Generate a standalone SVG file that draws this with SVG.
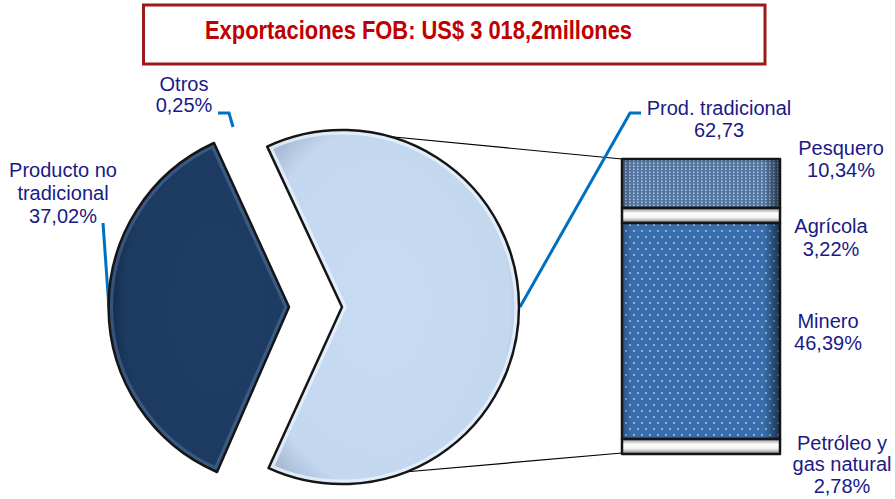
<svg xmlns="http://www.w3.org/2000/svg" width="895" height="499" viewBox="0 0 895 499">
<style>
.lbl{font-family:"Liberation Sans",Arial,sans-serif;font-size:20px;fill:#1a1a86;text-anchor:middle}
.lead{fill:none;stroke:#0070c0;stroke-width:3}
.proj{fill:none;stroke:#000;stroke-width:1.2}
.edge{stroke:#151515;stroke-width:2.5;stroke-linejoin:round}
</style>
<defs>
<radialGradient id="gLight" cx="0.45" cy="0.5" r="0.6">
<stop offset="0" stop-color="#c8dbf2"/><stop offset="0.85" stop-color="#c3d7ef"/><stop offset="1" stop-color="#a9bcd6"/>
</radialGradient>
<radialGradient id="gDark" cx="0.6" cy="0.5" r="0.6">
<stop offset="0" stop-color="#1f3e66"/><stop offset="0.85" stop-color="#1d3b61"/><stop offset="1" stop-color="#142b4a"/>
</radialGradient>
<pattern id="pPes" width="4" height="3" patternUnits="userSpaceOnUse">
<rect width="4" height="3" fill="#52739d"/><rect x="1" y="0.5" width="1.6" height="1.6" fill="#a9c5e8"/>
</pattern>
<pattern id="pMin" width="8" height="12" patternUnits="userSpaceOnUse">
<rect width="8" height="12" fill="#3a6dab"/><circle cx="2" cy="3" r="0.9" fill="#b8d2f2"/><circle cx="6" cy="9" r="0.9" fill="#b8d2f2"/>
</pattern>
<linearGradient id="gBand" x1="0" y1="0" x2="0" y2="1">
<stop offset="0" stop-color="#8a8a8a"/><stop offset="0.35" stop-color="#ffffff"/><stop offset="0.65" stop-color="#f2f2f2"/><stop offset="1" stop-color="#7a7a7a"/>
</linearGradient>
<linearGradient id="gShade" x1="0" y1="0" x2="1" y2="0">
<stop offset="0" stop-color="#000" stop-opacity="0.25"/><stop offset="0.06" stop-color="#000" stop-opacity="0"/><stop offset="0.9" stop-color="#000" stop-opacity="0"/><stop offset="1" stop-color="#000" stop-opacity="0.55"/>
</linearGradient>
<clipPath id="cLight"><path d="M342,307 L267.2,146.6 A177,177 0 1 1 268.6,468.1 Z"/></clipPath>
<clipPath id="cDark"><path d="M289,307 L217,472 A180,180 0 0 1 214,143 Z"/></clipPath>
</defs>
<rect width="895" height="499" fill="#fff"/>

<g id="title">
<rect x="143.5" y="5" width="621.5" height="59" fill="#fff" stroke="#9a1a1a" stroke-width="3"/>
<text x="205" y="38.5" font-family="'Liberation Sans',Arial,sans-serif" font-size="25" font-weight="bold" fill="#c00000" textLength="427" lengthAdjust="spacingAndGlyphs">Exportaciones FOB: US$ 3 018,2millones</text>
</g>

<g id="connectors">
<line class="proj" x1="373" y1="135" x2="622" y2="159"/>
<line class="proj" x1="393" y1="473" x2="622" y2="453"/>
<polyline class="lead" points="520,307 630,113 641,113"/>
<polyline class="lead" points="218,113 229,113 233,127"/>
<polyline class="lead" points="103,223 109,308"/>
</g>

<g id="slice-tradicional">
<path d="M342,307 L267.2,146.6 A177,177 0 1 1 268.6,468.1 Z" fill="url(#gLight)"/>
<path d="M342,307 L267.2,146.6 A177,177 0 1 1 268.6,468.1 Z" fill="none" stroke="#eaf3ff" stroke-opacity="0.8" stroke-width="9" clip-path="url(#cLight)"/>
<path class="edge" d="M342,307 L267.2,146.6 A177,177 0 1 1 268.6,468.1 Z" fill="none"/>
</g>

<g id="slice-no-tradicional">
<path d="M289,307 L217,472 A180,180 0 0 1 214,143 Z" fill="url(#gDark)"/>
<path d="M289,307 L217,472 A180,180 0 0 1 214,143 Z" fill="none" stroke="#5a7fae" stroke-opacity="0.45" stroke-width="9" clip-path="url(#cDark)"/>
<path class="edge" d="M289,307 L217,472 A180,180 0 0 1 214,143 Z" fill="none"/>
</g>

<g id="bar-pesquero">
<rect x="622" y="159" width="158" height="49" fill="url(#pPes)"/>
<rect x="622" y="159" width="158" height="49" fill="url(#gShade)"/>
<rect x="622" y="159" width="158" height="49" fill="none" class="edge"/>
</g>
<g id="bar-agricola">
<rect x="622" y="208" width="158" height="15" fill="url(#gBand)"/>
<rect x="622" y="208" width="158" height="15" fill="none" class="edge"/>
</g>
<g id="bar-minero">
<rect x="622" y="223" width="158" height="216" fill="url(#pMin)"/>
<rect x="622" y="223" width="158" height="216" fill="url(#gShade)"/>
<rect x="622" y="223" width="158" height="216" fill="none" class="edge"/>
</g>
<g id="bar-petroleo">
<rect x="622" y="439" width="158" height="15" fill="url(#gBand)"/>
<rect x="622" y="439" width="158" height="15" fill="none" class="edge"/>
</g>

<g id="label-otros">
<text class="lbl" x="184" y="91">Otros</text>
<text class="lbl" x="184" y="112">0,25%</text>
</g>
<g id="label-no-tradicional">
<text class="lbl" x="63" y="177">Producto no</text>
<text class="lbl" x="63" y="200">tradicional</text>
<text class="lbl" x="63" y="223">37,02%</text>
</g>
<g id="label-tradicional">
<text class="lbl" x="719" y="115">Prod. tradicional</text>
<text class="lbl" x="719" y="137">62,73</text>
</g>
<g id="label-pesquero">
<text class="lbl" x="841" y="155">Pesquero</text>
<text class="lbl" x="841" y="177">10,34%</text>
</g>
<g id="label-agricola">
<text class="lbl" x="831" y="233">Agrícola</text>
<text class="lbl" x="831" y="256">3,22%</text>
</g>
<g id="label-minero">
<text class="lbl" x="828" y="328">Minero</text>
<text class="lbl" x="828" y="350">46,39%</text>
</g>
<g id="label-petroleo">
<text class="lbl" x="842" y="450">Petróleo y</text>
<text class="lbl" x="842" y="471">gas natural</text>
<text class="lbl" x="842" y="493">2,78%</text>
</g>
</svg>
